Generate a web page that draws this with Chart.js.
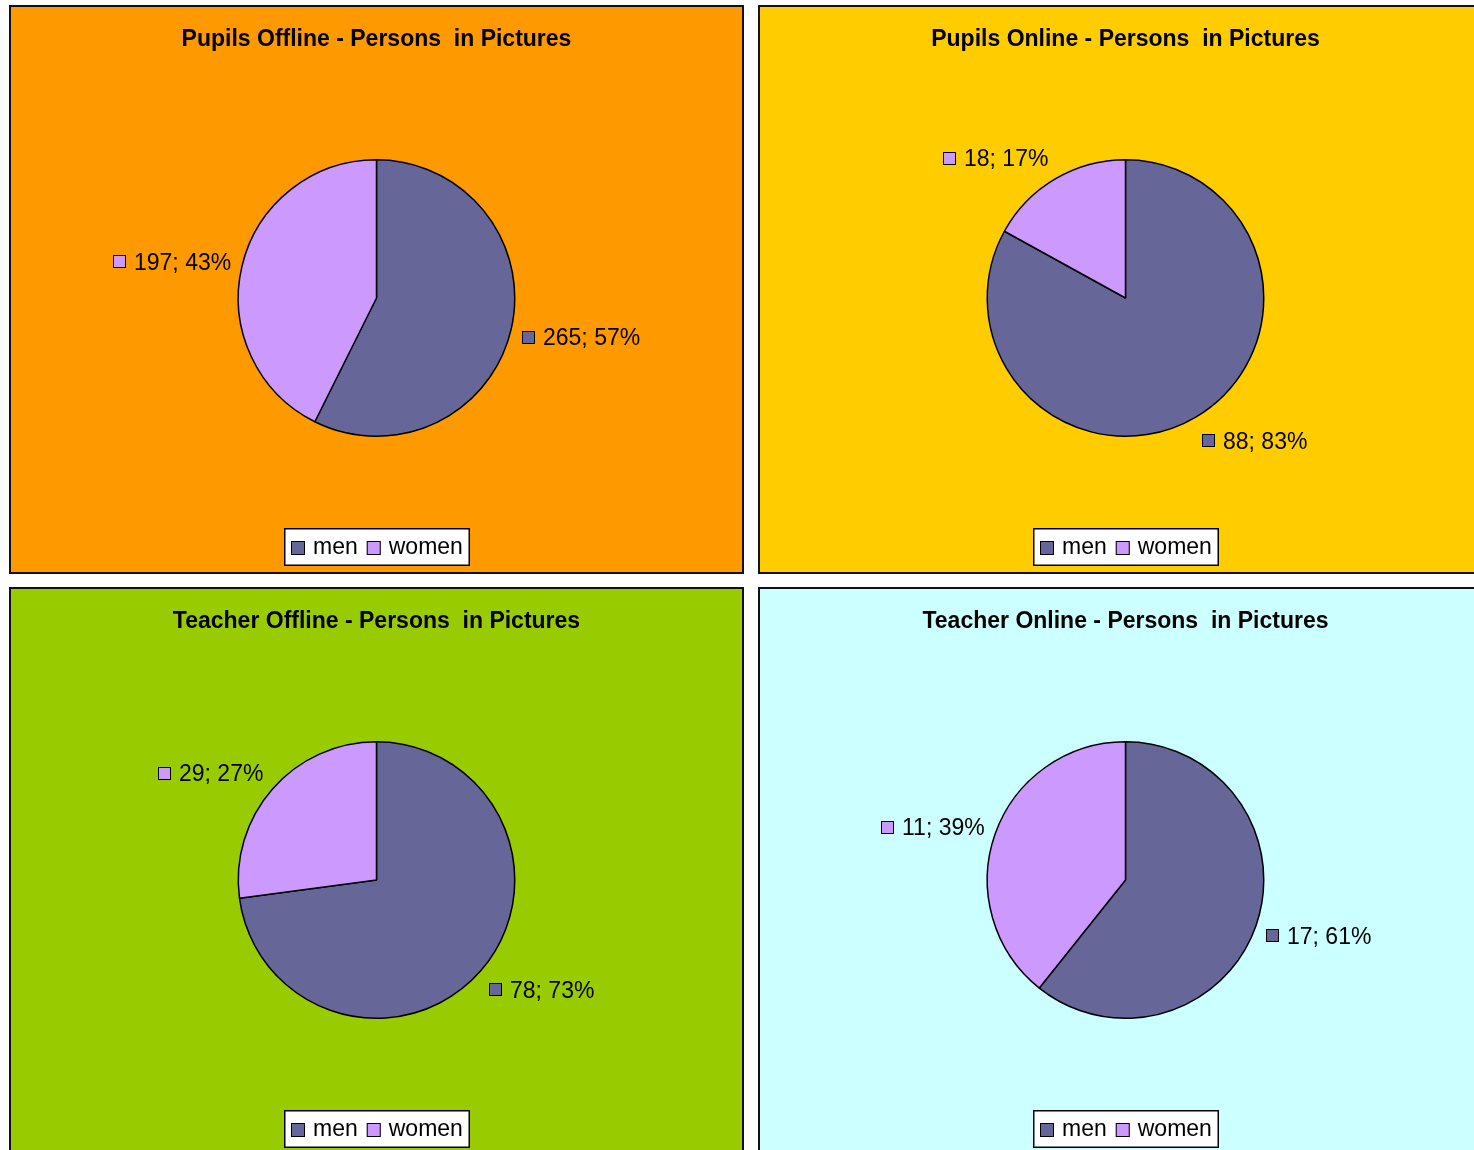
<!DOCTYPE html>
<html>
<head>
<meta charset="utf-8">
<script src="https://cdn.jsdelivr.net/npm/chart.js@4/dist/chart.umd.min.js"></script>
<style>
  html, body { margin: 0; padding: 0; background: #ffffff; width: 1474px; height: 1150px; overflow: hidden; position: relative; }
  .panel { position: absolute; box-sizing: border-box; width: 735px; height: 569px; border: 2px solid #111; }
  .panel canvas { display: block; }
</style>
</head>
<body>
<div class="panel" id="p0" style="left:9px; top:5px;"><canvas id="c0" width="731" height="565"></canvas></div>
<div class="panel" id="p1" style="left:758px; top:5px;"><canvas id="c1" width="731" height="565"></canvas></div>
<div class="panel" id="p2" style="left:9px; top:587px;"><canvas id="c2" width="731" height="565"></canvas></div>
<div class="panel" id="p3" style="left:758px; top:587px;"><canvas id="c3" width="731" height="565"></canvas></div>
<script>
// ---- data ----
const categories = ['men', 'women'];
const pupilsOffline = [265, 197];
const pupilsOnline = [88, 18];
const teacherOffline = [78, 29];
const teacherOnline = [17, 11];
const chartTitles = [
  'Pupils Offline - Persons  in Pictures',
  'Pupils Online - Persons  in Pictures',
  'Teacher Offline - Persons  in Pictures',
  'Teacher Online - Persons  in Pictures'
];
const seriesList = [pupilsOffline, pupilsOnline, teacherOffline, teacherOnline];

// ---- styles ----
const panelColors = ['#FF9900', '#FFCC00', '#99CC00', '#CCFFFF'];
const sliceColors = ['#666699', '#CC99FF'];
const FONT = '"Liberation Sans", Arial, Helvetica, sans-serif';

const panelBg = {
  id: 'panelBg',
  beforeDraw(chart, args, opts) {
    const ctx = chart.ctx;
    ctx.save();
    ctx.fillStyle = opts.color;
    ctx.fillRect(0, 0, chart.width, chart.height);
    ctx.restore();
  }
};

const sliceLabels = {
  id: 'sliceLabels',
  afterDatasetsDraw(chart) {
    const ctx = chart.ctx;
    const ds = chart.data.datasets[0];
    const data = ds.data;
    const total = data.reduce((a, b) => a + b, 0);
    const meta = chart.getDatasetMeta(0);
    ctx.save();
    ctx.font = '23px ' + FONT;
    meta.data.forEach((arc, i) => {
      const p = arc.getProps(['x', 'y', 'startAngle', 'endAngle', 'outerRadius'], true);
      const mid = (p.startAngle + p.endAngle) / 2;
      const c = Math.cos(mid), s = Math.sin(mid);
      const ax = p.x + (p.outerRadius + 9) * c + Math.sign(c) * 2;
      const ay = p.y + (p.outerRadius + 9) * s;
      const txt = data[i] + '; ' + Math.round(data[i] / total * 100) + '%';
      const tw = ctx.measureText(txt).width;
      const W = 13 + 8 + tw;
      const cx = ax + Math.sign(c) * W / 2;
      const cy = ay + s * 17 + 2;
      const left = Math.round(cx - W / 2);
      const sy = Math.round(cy - 7);
      ctx.fillStyle = ds.backgroundColor[i];
      ctx.fillRect(left, sy, 13, 13);
      ctx.strokeStyle = '#000';
      ctx.lineWidth = 1;
      ctx.strokeRect(left + 0.5, sy + 0.5, 12, 12);
      ctx.fillStyle = '#000';
      ctx.textAlign = 'left';
      ctx.textBaseline = 'middle';
      ctx.fillText(txt, left + 21, cy + 1);
    });
    ctx.restore();
  }
};

const boxedLegend = {
  id: 'boxedLegend',
  afterDraw(chart) {
    const ctx = chart.ctx;
    const ds = chart.data.datasets[0];
    const labels = chart.data.labels;
    ctx.save();
    ctx.font = '23px ' + FONT;
    const padL = 7, sq = 14, gapT = 8, gapItem = 9, padR = 7;
    let W = padL + padR;
    const widths = labels.map(l => ctx.measureText(l).width);
    labels.forEach((l, i) => { W += sq + gapT + widths[i] + (i < labels.length - 1 ? gapItem : 0); });
    W = Math.round(W);
    const H = 38;
    const cx = (chart.chartArea.left + chart.chartArea.right) / 2;
    const bx = Math.round(cx - W / 2), by = chart.height - 6 - H;
    ctx.fillStyle = '#ffffff';
    ctx.fillRect(bx, by, W, H);
    ctx.strokeStyle = '#000';
    ctx.lineWidth = 1.5;
    ctx.strokeRect(bx + 0.75, by + 0.75, W - 1.5, H - 1.5);
    let x = bx + padL;
    const midY = by + H / 2 + 1;
    labels.forEach((l, i) => {
      const sy = Math.round(midY - 7.5);
      ctx.fillStyle = ds.backgroundColor[i];
      ctx.fillRect(x, sy, sq, sq);
      ctx.strokeStyle = '#000';
      ctx.lineWidth = 1;
      ctx.strokeRect(x + 0.5, sy + 0.5, sq - 1, sq - 1);
      x += sq + gapT;
      ctx.fillStyle = '#000';
      ctx.textAlign = 'left';
      ctx.textBaseline = 'middle';
      ctx.fillText(l, x, midY);
      x += widths[i] + gapItem;
    });
    ctx.restore();
  }
};

seriesList.forEach((series, k) => {
  new Chart(document.getElementById('c' + k), {
    type: 'pie',
    data: {
      labels: categories,
      datasets: [{
        data: series,
        backgroundColor: sliceColors,
        borderColor: '#000',
        borderWidth: 1.5
      }]
    },
    options: {
      responsive: false,
      animation: false,
      layout: { padding: { top: 0, bottom: 135, left: 0, right: 0 } },
      plugins: {
        legend: { display: false },
        tooltip: { enabled: false },
        title: {
          display: true,
          text: chartTitles[k],
          color: '#000',
          font: { family: FONT, size: 23, weight: 'bold', lineHeight: 1.2 },
          padding: { top: 19, bottom: 105.4 }
        },
        panelBg: { color: panelColors[k] }
      }
    },
    plugins: [panelBg, sliceLabels, boxedLegend]
  });
});
</script>
</body>
</html>
